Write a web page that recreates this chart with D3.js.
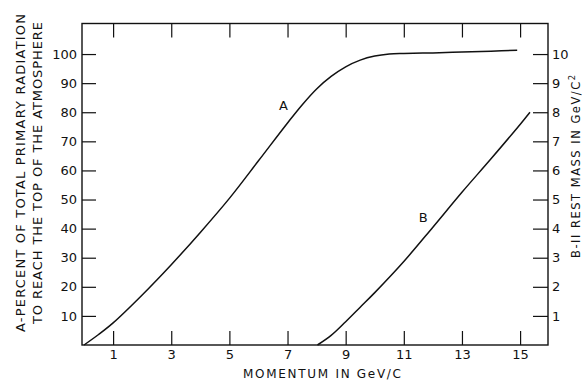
<!DOCTYPE html>
<html>
<head>
<meta charset="utf-8">
<script src="https://cdn.jsdelivr.net/npm/d3@7"></script>
<style>
  body { margin: 0; background: #fff; }
  svg { display: block; font-family: "DejaVu Sans", "Liberation Sans", Arial, sans-serif; }
  text { fill: #111; }
</style>
</head>
<body>
<div id="chart"></div>
<script>
'use strict';

// Curve A: percent of primary radiation reaching the top of the atmosphere
var momentumA = [0, 0.5, 1, 2, 3, 4, 5, 6, 7, 7.5, 8, 8.5, 9, 9.5, 10, 10.5, 11, 12, 13, 14, 14.9];
var percentA  = [0, 3.6, 7.6, 17.2, 27.6, 38.7, 50.4, 63.3, 76.3, 82.5, 88, 92.3, 95.6, 97.9, 99.3, 100, 100.2, 100.4, 100.7, 101, 101.3];

// Curve B: rest mass in GeV/c^2 (right axis)
var momentumB = [8.03, 8.5, 9, 9.5, 10, 11, 12, 13, 14, 15, 15.34];
var massB     = [0, 0.33, 0.8, 1.3, 1.8, 2.87, 4.05, 5.25, 6.4, 7.58, 8.0];

var xTicks = [1, 3, 5, 7, 9, 11, 13, 15];
var leftTicks = [10, 20, 30, 40, 50, 60, 70, 80, 90, 100];
var rightTicks = [1, 2, 3, 4, 5, 6, 7, 8, 9, 10];

var width = 582, height = 388;
var margin = {top: 23.5, right: 34, bottom: 43, left: 82};
var innerWidth = width - margin.left - margin.right;
var innerHeight = height - margin.top - margin.bottom;

var svg = d3.select('#chart').append('svg')
  .attr('width', width)
  .attr('height', height);

var chart = svg.append('g')
  .attr('transform', 'translate(' + margin.left + ',' + margin.top + ')');

var x = d3.scaleLinear().domain([-0.07, 15.96]).range([0, innerWidth]);
var yLeft = d3.scaleLinear().domain([0, 110.5]).range([innerHeight, 0]);
var yRight = d3.scaleLinear().domain([0, 11.05]).range([innerHeight, 0]);

var ink = '#111';

// frame
chart.append('rect')
  .attr('width', innerWidth)
  .attr('height', innerHeight)
  .attr('fill', 'none')
  .attr('stroke', ink)
  .attr('stroke-width', 1.4);

// axes, all ticks point inward
function styleAxis(g) {
  g.select('.domain').remove();
  g.selectAll('.tick line').attr('stroke', ink).attr('stroke-width', 1.2);
  g.selectAll('.tick text')
    .attr('fill', ink)
    .attr('font-family', '"DejaVu Sans", sans-serif')
    .attr('font-size', 13);
}

chart.append('g')
  .attr('transform', 'translate(0,' + innerHeight + ')')
  .call(d3.axisBottom(x).tickValues(xTicks).tickSize(-14).tickPadding(5))
  .call(styleAxis);

// top ticks only, no labels
chart.append('g')
  .call(d3.axisTop(x).tickValues(xTicks).tickSize(-14))
  .call(styleAxis)
  .selectAll('.tick text').remove();

chart.append('g')
  .call(d3.axisLeft(yLeft).tickValues(leftTicks).tickSize(-14).tickPadding(5))
  .call(styleAxis);

chart.append('g')
  .attr('transform', 'translate(' + innerWidth + ',0)')
  .call(d3.axisRight(yRight).tickValues(rightTicks).tickSize(-15).tickPadding(4))
  .call(styleAxis);

// curves
var lineA = d3.line()
  .x(function(d) { return x(d[0]); })
  .y(function(d) { return yLeft(d[1]); })
  .curve(d3.curveCatmullRom);

var lineB = d3.line()
  .x(function(d) { return x(d[0]); })
  .y(function(d) { return yRight(d[1]); })
  .curve(d3.curveCatmullRom);

chart.append('path')
  .datum(d3.zip(momentumA, percentA))
  .attr('fill', 'none')
  .attr('stroke', ink)
  .attr('stroke-width', 1.5)
  .attr('d', lineA);

chart.append('path')
  .datum(d3.zip(momentumB, massB))
  .attr('fill', 'none')
  .attr('stroke', ink)
  .attr('stroke-width', 1.5)
  .attr('d', lineB);

// curve labels
chart.append('text')
  .attr('x', x(6.86))
  .attr('y', yLeft(82.2))
  .attr('dy', '0.35em')
  .attr('text-anchor', 'middle')
  .attr('font-size', 13)
  .text('A');

chart.append('text')
  .attr('x', x(11.67))
  .attr('y', yRight(4.4))
  .attr('dy', '0.35em')
  .attr('text-anchor', 'middle')
  .attr('font-size', 13)
  .text('B');

// axis titles
svg.append('text')
  .attr('x', 322)
  .attr('y', 378)
  .attr('text-anchor', 'middle')
  .attr('font-size', 12)
  .attr('textLength', 158)
  .attr('lengthAdjust', 'spacing')
  .text('MOMENTUM IN GeV/C');

svg.append('text')
  .attr('transform', 'translate(25,173) rotate(-90)')
  .attr('text-anchor', 'middle')
  .attr('font-size', 13)
  .attr('textLength', 318)
  .attr('lengthAdjust', 'spacing')
  .text('A-PERCENT OF TOTAL PRIMARY RADIATION');

svg.append('text')
  .attr('transform', 'translate(42,173) rotate(-90)')
  .attr('text-anchor', 'middle')
  .attr('font-size', 13)
  .attr('textLength', 302)
  .attr('lengthAdjust', 'spacing')
  .text('TO REACH THE TOP OF THE ATMOSPHERE');

var rightTitle = svg.append('text')
  .attr('transform', 'translate(580,258) rotate(-90)')
  .attr('font-size', 11.5)
  .style('letter-spacing', '1.5px');
rightTitle.append('tspan').text('B-II REST MASS IN GeV/C');
rightTitle.append('tspan')
  .attr('font-size', 8.5)
  .attr('dy', -5)
  .text('2');
</script>
</body>
</html>
